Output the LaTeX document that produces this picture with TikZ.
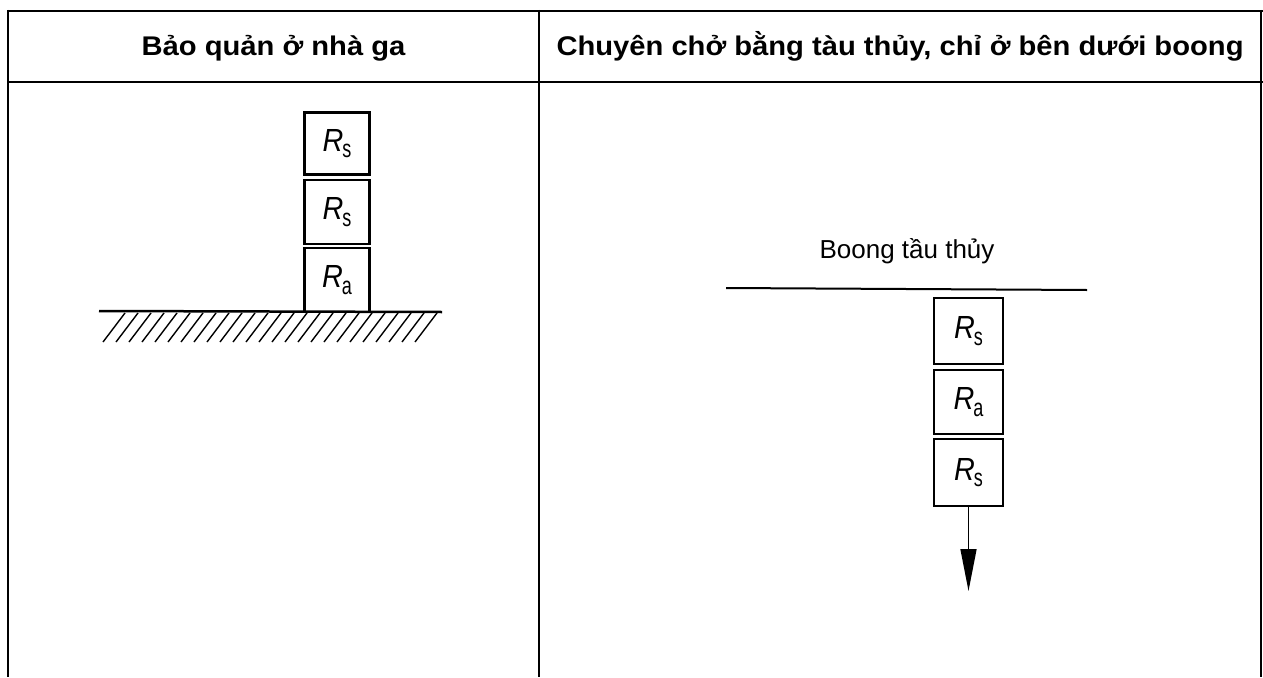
\documentclass[tikz,border=0pt]{standalone}
\usepackage{fontspec}
\setmainfont{Liberation Sans}
\usetikzlibrary{arrows.meta}
\newcommand\boxlbl[1]{\scalebox{0.9}[1]{\fontsize{32}{32}\selectfont\itshape R}\kern-1pt\raisebox{-6.5pt}{\scalebox{0.72}[1]{\fontsize{25}{25}\selectfont #1}}}
\begin{document}
\begin{tikzpicture}[x=1pt,y=-1pt,
  tline/.style={line width=2.4pt},
  vline/.style={line width=1.8pt},
  cargo/.style={draw,line width=2.5pt,inner sep=0pt},
  hdr/.style={font=\fontsize{27}{27}\selectfont\bfseries,anchor=base,xscale=1.08},
  thin/.style={line width=2pt}]
\useasboundingbox (0,0) rectangle (1263,677);
% table
\draw[tline] (7,11) -- (1263,11);
\draw[tline] (7,82) -- (1263,82);
\draw[vline] (8,10) -- (8,677);
\draw[vline] (539,10) -- (539,677);
\draw[vline] (1261,10) -- (1261,677);
\node[hdr] (h1) at (273.5,56) {Bảo quản ở nhà ga};
\node[hdr] (h2) at (900,56) {Chuyên chở bằng tàu thủy, chỉ ở bên dưới boong};
% left stack
\node[cargo,minimum width=65pt,minimum height=62pt] (L1) at (337,143.5) {\boxlbl{s}};
\node[cargo,minimum width=65pt,minimum height=64pt] (L2) at (337,212) {\boxlbl{s}};
\node[cargo,minimum width=65pt,minimum height=64pt] (L3) at (337,280) {\boxlbl{a}};
\coordinate (g1) at (99,311);
\coordinate (g2) at (442,312);
\draw[line width=2.5pt] (g1) -- (g2);
\foreach \i in {0,...,24} {
  \draw[line width=1.4pt] (125+13*\i,313) -- (103+13*\i,342);
}
% right
\node[font=\fontsize{26}{26}\selectfont,anchor=base] (deck) at (907,258) {Boong tầu thủy};
\coordinate (d1) at (726,288);
\coordinate (d2) at (1087,290);
\draw[thin] (d1) -- (d2);
\node[cargo,minimum width=69pt,minimum height=66pt] (R1) at (968.5,331) {\boxlbl{s}};
\node[cargo,minimum width=69pt,minimum height=64pt] (R2) at (968.5,402) {\boxlbl{a}};
\node[cargo,minimum width=69pt,minimum height=67pt] (R3) at (968.5,472.5) {\boxlbl{s}};
\coordinate (aend) at (968.5,591);
\draw[line width=1.5pt,-{Triangle[length=42pt,width=16pt]}] (R3.south) -- (aend);
\end{tikzpicture}
\end{document}
